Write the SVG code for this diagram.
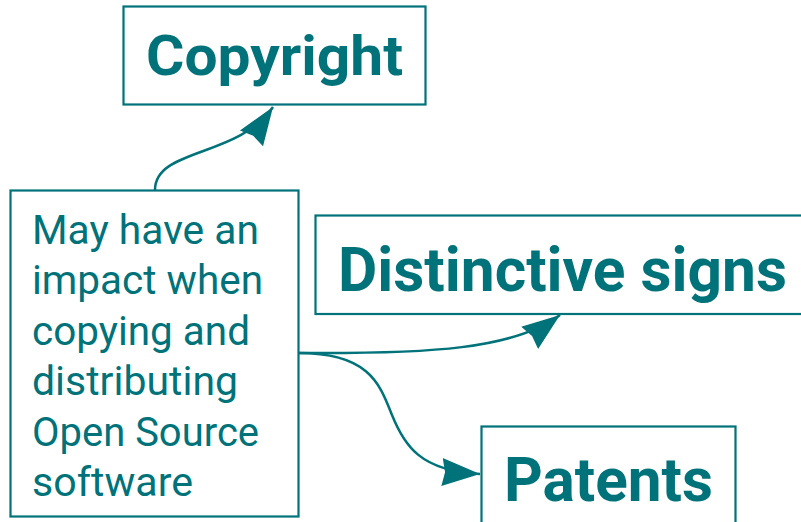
<svg xmlns="http://www.w3.org/2000/svg" width="801" height="522" viewBox="0 0 801 522">
<style>
.box{fill:#ffffff;stroke:#00727a;stroke-width:2.2}
.title{font-family:Roboto,"Liberation Sans",sans-serif;font-weight:700;fill:#00727a}
.body{font-family:Roboto,"Liberation Sans",sans-serif;font-weight:400;font-size:41px;fill:#00727a}
.conn{fill:none;stroke:#00727a;stroke-width:2.5}
</style>
<defs>
<marker id="arrow" markerUnits="userSpaceOnUse" markerWidth="40" markerHeight="30" refX="38" refY="14" orient="auto" viewBox="0 0 40 28">
<path d="M0,0 L38,14 L0,28 L3,14 z" fill="#00727a"/>
</marker>
</defs>
<rect width="801" height="522" fill="#ffffff"/>
<g id="connectors">
<path class="conn" d="M155,190 C155,148 238,158 273,107" marker-end="url(#arrow)"/>
<path class="conn" d="M299,353 C430,354 515,349 560,315" marker-end="url(#arrow)"/>
<path class="conn" d="M299,353 C370,353 380,385 392,415 S420,471 480,474" marker-end="url(#arrow)"/>
</g>
<g id="copyright">
<rect class="box" x="123.5" y="6.5" width="302" height="98"/>
<text class="title" x="146" y="75" font-size="55" textLength="257" lengthAdjust="spacingAndGlyphs">Copyright</text>
</g>
<g id="distinctive-signs">
<rect class="box" x="315.5" y="215.5" width="500" height="98.5"/>
<text class="title" x="338" y="291" font-size="62" textLength="449" lengthAdjust="spacingAndGlyphs">Distinctive signs</text>
</g>
<g id="patents">
<rect class="box" x="481.5" y="426.5" width="254" height="110"/>
<text class="title" x="504" y="500.5" font-size="62" textLength="209" lengthAdjust="spacingAndGlyphs">Patents</text>
</g>
<g id="source">
<rect class="box" x="10.5" y="190.5" width="288" height="326"/>
<text class="body" x="32" y="243.5" textLength="227" lengthAdjust="spacingAndGlyphs">May have an</text>
<text class="body" x="32" y="294" textLength="231" lengthAdjust="spacingAndGlyphs">impact when</text>
<text class="body" x="32" y="344.5" textLength="218" lengthAdjust="spacingAndGlyphs">copying and</text>
<text class="body" x="32" y="395" textLength="206" lengthAdjust="spacingAndGlyphs">distributing</text>
<text class="body" x="32" y="445.5" textLength="227" lengthAdjust="spacingAndGlyphs">Open Source</text>
<text class="body" x="32" y="496" textLength="161" lengthAdjust="spacingAndGlyphs">software</text>
</g>
</svg>
